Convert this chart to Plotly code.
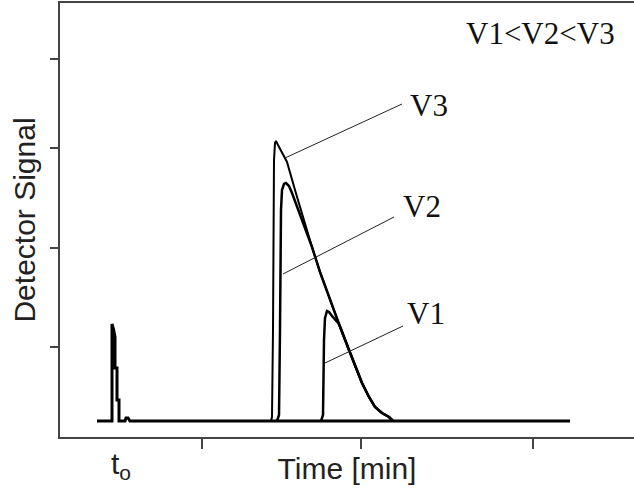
import plotly.graph_objects as go

# ---- data (time units arbitrary, signal units arbitrary) ----
baseline_time = [3.7, 5.2, 5.2, 5.35, 5.5, 5.5, 5.7, 5.7, 5.9, 5.9, 6.5, 6.6, 6.8, 7.0, 51.0]
baseline_signal = [0.0, 0.0, 9.7, 9.2, 8.4, 5.3, 5.3, 2.1, 2.1, 0.0, 0.0, 0.3, 0.3, 0.0, 0.0]

tail_time = [25.2, 26.0, 26.9, 27.9, 28.9, 29.6, 30.2, 30.9, 31.5, 32.2, 32.9, 33.3]
tail_signal = [17.4, 14.9, 12.4, 9.7, 7.1, 5.3, 3.8, 2.4, 1.4, 0.8, 0.4, 0.0]

v3_time = [21.1, 21.2, 21.3, 21.4, 21.5, 21.6, 21.8, 22.2, 22.7, 23.5, 24.3]
v3_signal = [0.0, 0.4, 9.1, 26.1, 27.8, 28.0, 27.6, 26.9, 25.9, 23.1, 20.3]

v2_time = [21.7, 21.9, 22.0, 22.1, 22.2, 22.4, 22.6, 22.9, 23.2, 23.7, 24.2, 24.7]
v2_signal = [0.0, 0.6, 9.1, 21.1, 23.1, 23.7, 23.8, 23.5, 22.8, 21.4, 20.1, 18.8]

v1_time = [26.1, 26.3, 26.4, 26.5, 26.7, 26.9, 27.2, 27.6]
v1_signal = [0.0, 0.6, 8.1, 10.3, 11.0, 10.9, 10.5, 10.0]
v1_tail_start = 3  # index in tail where V1 joins

x_tick_vals = [14.2, 30.1, 47.3]
y_tick_vals = [7.4, 17.3, 27.3, 36.2]

labels = ["V3", "V2", "V1"]
leader_from_time = [22.5, 22.3, 26.5]
leader_from_signal = [26.3, 14.7, 5.8]
leader_to_time = [34.2, 33.4, 34.3]
leader_to_signal = [31.7, 20.4, 9.5]
label_time = [34.8, 34.1, 34.5]
label_signal = [31.6, 21.5, 10.8]

t0_label_time = 4.9
order_text = "V1&lt;V2&lt;V3"
order_time = 40.4
order_signal = 38.8

# ---- figure ----
fig = go.Figure()
fig.add_trace(go.Scatter(x=baseline_time, y=baseline_signal, mode="lines",
                         line=dict(color="black", width=3), hoverinfo="skip"))
fig.add_trace(go.Scatter(x=v3_time + tail_time, y=v3_signal + tail_signal, mode="lines",
                         line=dict(color="black", width=2), hoverinfo="skip"))
fig.add_trace(go.Scatter(x=v2_time + tail_time, y=v2_signal + tail_signal, mode="lines",
                         line=dict(color="black", width=2.5), hoverinfo="skip"))
fig.add_trace(go.Scatter(x=v1_time + tail_time[v1_tail_start:],
                         y=v1_signal + tail_signal[v1_tail_start:], mode="lines",
                         line=dict(color="black", width=2.5), hoverinfo="skip"))

serif = "Liberation Serif, Times New Roman, serif"
sans = "Liberation Sans, Arial, sans-serif"

for i, lab in enumerate(labels):
    fig.add_shape(type="line", xref="x", yref="y",
                  x0=leader_from_time[i], y0=leader_from_signal[i],
                  x1=leader_to_time[i], y1=leader_to_signal[i],
                  line=dict(color="#222", width=1))
    fig.add_annotation(x=label_time[i], y=label_signal[i], xref="x", yref="y",
                       text=lab, showarrow=False, xanchor="left", yanchor="middle",
                       font=dict(family=serif, size=31, color="#111"))

fig.add_annotation(x=order_time, y=order_signal, xref="x", yref="y",
                   text=order_text, showarrow=False, xanchor="left", yanchor="middle",
                   font=dict(family=serif, size=31, color="#111"))

fig.add_annotation(x=t0_label_time, y=0, xref="x", yref="paper",
                   text="t<sub>o</sub>", showarrow=False, xanchor="left", yanchor="top",
                   yshift=-8,
                   font=dict(family=sans, size=30, color="#222"))

fig.update_layout(
    width=634, height=490,
    margin=dict(l=60, r=0, t=3, b=53),
    paper_bgcolor="white", plot_bgcolor="white",
    showlegend=False,
    xaxis=dict(range=[0, 57.4], showgrid=False, zeroline=False,
               showline=True, linecolor="#444", linewidth=2, mirror=True,
               ticks="outside", ticklen=10, tickwidth=2, tickcolor="#444",
               tickvals=x_tick_vals, showticklabels=False,
               title=dict(text="Time [min]", standoff=10,
                          font=dict(family=sans, size=30, color="#222"))),
    yaxis=dict(range=[-1.6, 41.8], showgrid=False, zeroline=False,
               showline=True, linecolor="#444", linewidth=2, mirror=False,
               ticks="outside", ticklen=8, tickwidth=2, tickcolor="#444",
               tickvals=y_tick_vals, showticklabels=False,
               title=dict(text="Detector Signal", standoff=6,
                          font=dict(family=sans, size=30, color="#222"))),
)

fig.write_html("out.html")
